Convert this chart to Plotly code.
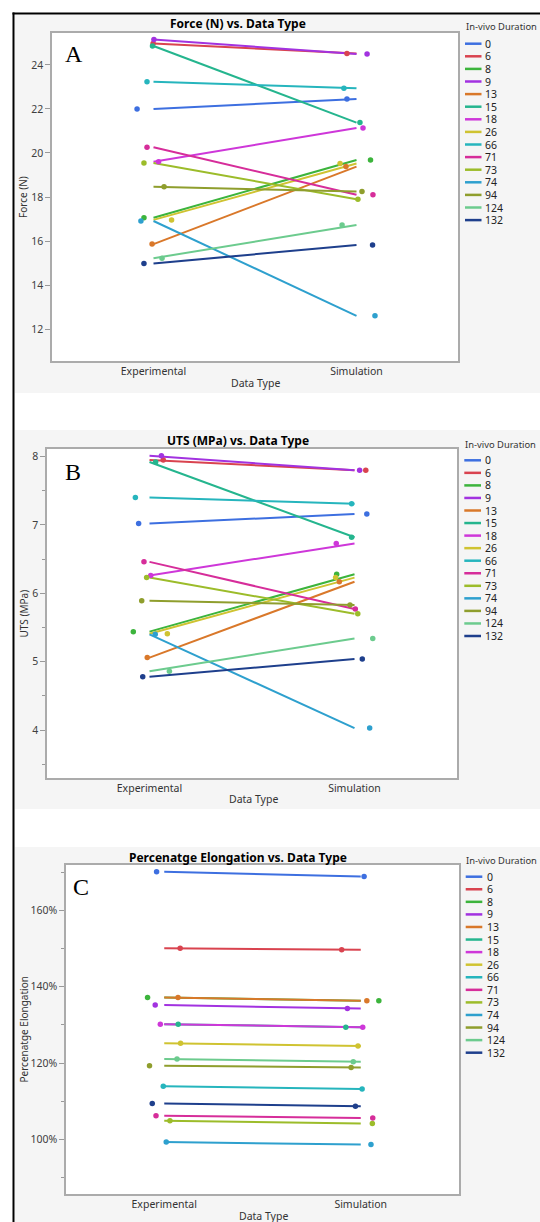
import plotly.graph_objects as go

W, H = 540, 1222


def px(x):
    return x / W


def py(y):
    return 1 - y / H


# ---------------- data ----------------
durations = ["0", "6", "8", "9", "13", "15", "18", "26", "66", "71", "73", "74", "94", "124", "132"]
categories = ["Experimental", "Simulation"]
colors = ["#3D6FE0", "#D9434F", "#3CB43C", "#A232E0", "#D9782A", "#25B58E", "#CE37D9", "#CFC331",
          "#26B5BD", "#D62D9A", "#9CBC2A", "#2EA0CE", "#8F9E2D", "#6CCB8E", "#1E3F8C"]

# Force (N)
force_exp = [22.0, 24.97, 17.06, 25.15, 15.86, 24.86, 19.6, 16.96, 23.24, 20.26, 19.54, 16.91, 18.46, 15.22, 14.98]
force_sim = [22.45, 24.52, 19.68, 24.5, 19.38, 21.38, 21.13, 19.52, 22.94, 18.1, 17.9, 12.6, 18.25, 16.73, 15.82]
force_jit_exp = [-0.081, -0.002, -0.047, 0.002, -0.007, -0.005, 0.025, 0.089, -0.032, -0.032, -0.047, -0.062, 0.052, 0.042, -0.047]
force_jit_sim = [-0.047, -0.047, 0.069, 0.052, -0.052, 0.017, 0.032, -0.081, -0.062, 0.081, 0.007, 0.091, 0.027, -0.071, 0.079]

# UTS (MPa)
uts_exp = [7.02, 7.95, 5.44, 8.01, 5.06, 7.92, 6.26, 5.41, 7.40, 6.46, 6.23, 5.40, 5.89, 4.86, 4.78]
uts_sim = [7.16, 7.80, 6.28, 7.80, 6.17, 6.82, 6.73, 6.23, 7.31, 5.77, 5.70, 4.03, 5.83, 5.34, 5.04]
uts_jit_exp = [-0.053, 0.067, -0.079, 0.058, -0.011, 0.030, 0.006, 0.087, -0.069, -0.027, -0.014, 0.028, -0.038, 0.097, -0.033]
uts_jit_sim = [0.060, 0.055, -0.087, 0.025, -0.074, -0.014, -0.089, -0.092, -0.014, 0.004, 0.016, 0.074, -0.022, 0.089, 0.038]

# Percentage elongation (%)
elong_exp = [170.1, 150.1, 137.2, 135.2, 137.2, 130.2, 130.2, 125.2, 113.9, 106.2, 104.9, 99.3, 119.3, 121.1, 109.4]
elong_sim = [168.9, 149.7, 136.3, 134.3, 136.3, 129.4, 129.4, 124.45, 113.2, 105.6, 104.2, 98.7, 118.85, 120.35, 108.7]
elong_jit_exp = [-0.039, 0.081, -0.085, -0.046, 0.070, 0.071, -0.020, 0.083, -0.005, -0.042, 0.029, 0.010, -0.075, 0.065, -0.061]
elong_jit_sim = [0.017, -0.097, 0.092, -0.068, 0.031, -0.076, 0.010, -0.014, 0.007, 0.061, 0.059, 0.052, -0.049, -0.038, -0.027]

# ---------------- layout description ----------------
panels = [
    dict(exp=force_exp, sim=force_sim, je=force_jit_exp, js=force_jit_sim,
         title="Force (N) vs. Data Type", ytitle="Force (N)", letter="A",
         box=(52, 33, 458, 361), bg=(15, 393), yrange=[10.55, 25.45], dtick=2, minor=None, suffix="",
         title_y=24, xt=(255, 383), letter_pos=(74, 54),
         leg_title_y=27, leg_first=43.7, leg_step=12.6, leg_x=(465, 481.5, 483)),
    dict(exp=uts_exp, sim=uts_sim, je=uts_jit_exp, js=uts_jit_sim,
         title="UTS (MPa) vs. Data Type", ytitle="UTS (MPa)", letter="B",
         box=(47, 449, 457, 778), bg=(430, 809), yrange=[3.30, 8.11], dtick=1, minor=0.5, suffix="",
         title_y=440, xt=(253, 799), letter_pos=(73, 472),
         leg_title_y=444, leg_first=460.3, leg_step=12.55, leg_x=(464.3, 481, 483)),
    dict(exp=elong_exp, sim=elong_sim, je=elong_jit_exp, js=elong_jit_sim,
         title="Percenatge Elongation vs. Data Type", ytitle="Percenatge Elongation", letter="C",
         box=(66, 865, 459, 1194), bg=(847, 1222), yrange=[85.7, 171.9], dtick=20, minor=10, suffix="%",
         title_y=857, xt=(263.5, 1216), letter_pos=(80.5, 887),
         leg_title_y=860, leg_first=876.7, leg_step=12.57, leg_x=(465.7, 482.3, 484.7)),
]

FONT = "Noto Sans"
fig = go.Figure()
shapes = []
annotations = []
layout_axes = {}

for i, p in enumerate(panels):
    k = "" if i == 0 else str(i + 1)
    xref, yref = "x" + k, "y" + k
    x0, y0, x1, y1 = p["box"]

    # background panel + white plot area
    shapes.append(dict(type="rect", xref="paper", yref="paper", layer="below",
                       x0=px(15), x1=px(540), y0=py(p["bg"][1]), y1=py(p["bg"][0]),
                       fillcolor="#F5F5F5", line=dict(width=0)))
    shapes.append(dict(type="rect", xref="paper", yref="paper", layer="below",
                       x0=px(x0), x1=px(x1), y0=py(y1), y1=py(y0),
                       fillcolor="white", line=dict(width=0)))

    for j, d in enumerate(durations):
        fig.add_trace(go.Scatter(x=[0, 1], y=[p["exp"][j], p["sim"][j]], mode="lines",
                                 line=dict(color=colors[j], width=2), xaxis=xref, yaxis=yref,
                                 showlegend=False, hoverinfo="skip"))
    for j, d in enumerate(durations):
        fig.add_trace(go.Scatter(x=[0 + p["je"][j], 1 + p["js"][j]], y=[p["exp"][j], p["sim"][j]],
                                 mode="markers", marker=dict(color=colors[j], size=5.5),
                                 xaxis=xref, yaxis=yref, showlegend=False, name=d))

    xa = dict(domain=[px(x0), px(x1)], anchor=yref, range=[-0.5, 1.5],
              tickvals=[0, 1], ticktext=categories, showgrid=False, zeroline=False,
              showline=True, mirror=True, linecolor="#ABABAB", linewidth=1.5, ticks="",
              tickfont=dict(family=FONT, size=10.5, color="#333333"), fixedrange=True)
    ya = dict(domain=[py(y1), py(y0)], anchor=xref, range=p["yrange"], dtick=p["dtick"],
              ticksuffix=p["suffix"], showgrid=False, zeroline=False,
              showline=True, mirror=True, linecolor="#ABABAB", linewidth=1.5,
              ticks="outside", ticklen=5, tickcolor="#999999", tickwidth=1,
              tickfont=dict(family=FONT, size=10.5, color="#404040"), fixedrange=True)
    if p["minor"]:
        ya["minor"] = dict(dtick=p["minor"], ticks="outside", ticklen=3, tickcolor="#999999", showgrid=False)
    layout_axes["xaxis" + k] = xa
    layout_axes["yaxis" + k] = ya

    # titles
    annotations.append(dict(text="<b>" + p["title"] + "</b>", x=px(238), y=py(p["title_y"]),
                            xref="paper", yref="paper", showarrow=False, xanchor="center", yanchor="middle",
                            font=dict(family=FONT, size=12, color="black")))
    annotations.append(dict(text=p["ytitle"], x=px(23), y=py((y0 + y1) / 2), textangle=-90,
                            xref="paper", yref="paper", showarrow=False, xanchor="center", yanchor="middle",
                            font=dict(family=FONT, size=10, color="#333333")))
    annotations.append(dict(text="Data Type", x=px(p["xt"][0]), y=py(p["xt"][1]),
                            xref="paper", yref="paper", showarrow=False, xanchor="center", yanchor="middle",
                            font=dict(family=FONT, size=10.5, color="#333333")))
    annotations.append(dict(text=p["letter"], x=px(p["letter_pos"][0]), y=py(p["letter_pos"][1]),
                            xref="paper", yref="paper", showarrow=False, xanchor="center", yanchor="middle",
                            font=dict(family="Liberation Serif", size=24, color="black")))

    # legend
    lx0, lx1, ltx = p["leg_x"]
    annotations.append(dict(text="In-vivo Duration", x=px(lx0 - 1.5), y=py(p["leg_title_y"]),
                            xref="paper", yref="paper", showarrow=False, xanchor="left", yanchor="middle",
                            font=dict(family=FONT, size=9.4, color="#333333")))
    for j, d in enumerate(durations):
        yy = p["leg_first"] + j * p["leg_step"]
        shapes.append(dict(type="line", xref="paper", yref="paper", x0=px(lx0), x1=px(lx1),
                           y0=py(yy), y1=py(yy), line=dict(color=colors[j], width=2.5)))
        annotations.append(dict(text=d, x=px(ltx), y=py(yy), xref="paper", yref="paper",
                                showarrow=False, xanchor="left", yanchor="middle",
                                font=dict(family=FONT, size=10.5, color="#222222")))

# black frame lines
shapes.append(dict(type="line", xref="paper", yref="paper", x0=px(13.5), x1=px(13.5), y0=0, y1=py(12.5),
                   line=dict(color="black", width=2)))
shapes.append(dict(type="line", xref="paper", yref="paper", x0=px(12.5), x1=1, y0=py(13.5), y1=py(13.5),
                   line=dict(color="black", width=2)))

fig.update_layout(width=W, height=H, margin=dict(l=0, r=0, t=0, b=0),
                  paper_bgcolor="white", plot_bgcolor="rgba(0,0,0,0)",
                  shapes=shapes, annotations=annotations, showlegend=False,
                  font=dict(family=FONT), **layout_axes)

fig.write_html("out.html", config={"displayModeBar": False})
